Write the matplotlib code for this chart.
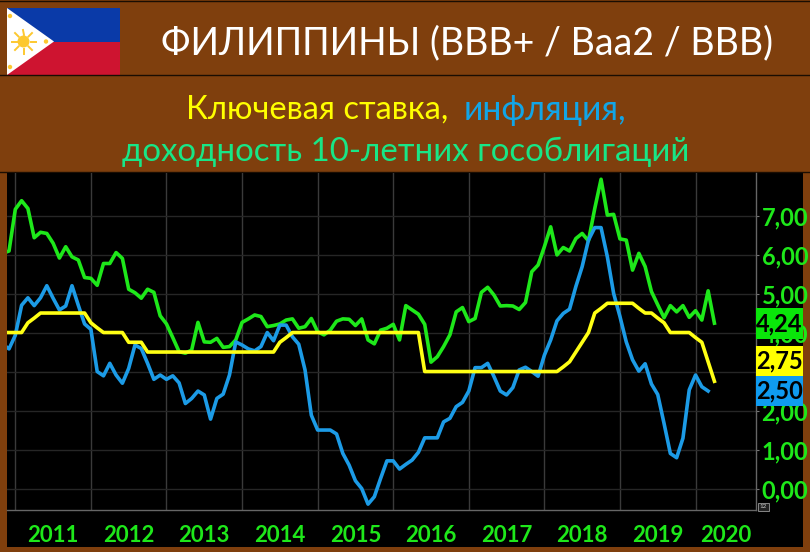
import matplotlib
matplotlib.use('Agg')
import matplotlib.pyplot as plt
from matplotlib.patches import Rectangle, Polygon, Circle
import numpy as np

plt.rcParams['font.family'] = ['Lato', 'Open Sans', 'DejaVu Sans']

# monthly values, first point is the month before the visible left edge
start_year = 2010 + 10 / 12

bond_yield = [6.03, 6.09, 7.16, 7.38, 7.18, 6.43, 6.57, 6.54, 6.29, 5.91, 6.20,
              5.94, 5.86, 5.41, 5.39, 5.21, 5.77, 5.77, 6.05, 5.90, 5.11,
              5.02, 4.88, 5.11, 5.03, 4.43, 4.22, 3.87, 3.51, 3.47, 3.55,
              4.26, 3.76, 3.75, 3.85, 3.62, 3.64, 3.81, 4.26, 4.35, 4.45,
              4.41, 4.15,
              4.18, 4.22, 4.32, 4.35, 4.11, 4.15, 4.36, 4.02, 3.94, 4.06,
              4.29, 4.35, 4.34, 4.18, 4.35, 3.81, 3.71, 4.06, 4.11, 4.21,
              3.81, 4.69, 4.58, 4.47, 4.21, 3.24, 3.38, 3.64, 3.94, 4.53,
              4.64, 4.28, 4.36, 5.03, 5.16, 4.96, 4.68, 4.69, 4.68, 4.59,
              4.77, 5.56, 5.73,
              6.20, 6.71, 5.99, 6.18, 6.09, 6.41, 6.54, 6.35, 7.18, 7.93,
              7.01, 7.03, 6.40, 6.37, 5.60, 6.03, 5.69, 5.05, 4.71, 4.38,
              4.69, 4.53, 4.69, 4.39, 4.56, 4.32, 5.07, 4.24]

key_rate = [4.00, 4.00, 4.00, 4.00, 4.25, 4.37, 4.50, 4.50, 4.50, 4.50, 4.50,
            4.50, 4.50, 4.50, 4.25, 4.12, 4.00, 4.00, 4.00, 4.00, 3.75,
            3.75, 3.75, 3.50, 3.50, 3.50, 3.50, 3.50, 3.50, 3.50, 3.50,
            3.50, 3.50, 3.50, 3.50, 3.50, 3.50, 3.50, 3.50, 3.50, 3.50,
            3.50, 3.50, 3.50, 3.75, 3.87, 4.00, 4.00, 4.00, 4.00, 4.00,
            4.00, 4.00, 4.00, 4.00, 4.00, 4.00, 4.00, 4.00, 4.00, 4.00,
            4.00, 4.00, 4.00, 4.00, 4.00, 4.00, 3.00, 3.00, 3.00, 3.00,
            3.00, 3.00, 3.00, 3.00, 3.00, 3.00, 3.00, 3.00, 3.00, 3.00,
            3.00, 3.00, 3.00, 3.00, 3.00, 3.00, 3.00, 3.00, 3.12, 3.25,
            3.50, 3.75, 4.00, 4.50, 4.62, 4.75, 4.75, 4.75, 4.75, 4.75,
            4.62, 4.50, 4.50, 4.37, 4.25, 4.00, 4.00, 4.00, 4.00, 3.87,
            3.75, 3.25, 2.75]

inflation = [3.70, 3.58, 3.93, 4.70, 4.89, 4.69, 4.89, 5.20, 4.88, 4.58, 4.68,
             5.20, 4.70, 4.22, 4.08, 3.00, 2.89, 3.21, 2.91, 2.70, 3.08,
             3.68, 3.59, 3.21, 2.80, 2.91, 2.80, 2.89, 2.71, 2.18, 2.31,
             2.50, 2.40, 1.78, 2.31, 2.42, 2.91, 3.76, 3.68, 3.58, 3.53,
             3.64, 4.00, 3.79, 4.19, 4.19, 3.89, 3.70, 3.04, 1.88, 1.50,
             1.50, 1.50, 1.40, 0.90, 0.60, 0.20, 0.00, -0.40, -0.21, 0.26,
             0.71, 0.71, 0.50, 0.62, 0.73, 0.93, 1.30, 1.30, 1.30, 1.71,
             1.80, 2.10, 2.21, 2.50, 3.10, 3.10, 3.21, 2.87, 2.50, 2.40,
             2.59, 3.04, 3.11, 3.00, 2.88, 3.42, 3.81, 4.30, 4.49, 4.60,
             5.18, 5.69, 6.37, 6.69, 6.69, 5.94, 5.00, 4.41, 3.76, 3.30,
             3.01, 3.20, 2.68, 2.41, 1.67, 0.90, 0.79, 1.29, 2.53, 2.91,
             2.61, 2.50]

years = [2011, 2012, 2013, 2014, 2015, 2016, 2017, 2018, 2019, 2020]
y_ticks = [0, 1, 2, 3, 4, 5, 6, 7]
# 3,00 sits fully behind the value tags, as in the source
y_hidden = [3]

BROWN = '#7f3f0d'
GREEN = '#1ee81a'
YELLOW = '#ffff14'
BLUE = '#1c9be6'
W, H = 810, 552


def months(vals):
    return start_year + np.arange(len(vals)) / 12


def fmt(v):
    return ('%.2f' % v).replace('.', ',')


fig = plt.figure(figsize=(W / 100, H / 100), dpi=100, facecolor=BROWN)

# header, black panel and flag live in pixel coordinates
bg = fig.add_axes([0, 0, 1, 1], zorder=0)
bg.set_xlim(0, W)
bg.set_ylim(H, 0)
bg.axis('off')
bg.add_patch(Rectangle((7, 172), 796, 375, color='black', lw=0))
for yy in [1, 75, 172]:
    bg.plot([0, W], [yy, yy], color='#1a0d02', lw=1)

bg.add_patch(Rectangle((7, 8), 113, 34, color='#0a3aa8', lw=0))
bg.add_patch(Rectangle((7, 42), 113, 33, color='#ce1430', lw=0))
bg.add_patch(Polygon([(7, 8), (54, 41.5), (7, 75)], color='white', lw=0))
bg.add_patch(Circle((23.5, 41.5), 6, color='#fdc82f', lw=0))
for a in np.arange(0, 360, 45):
    ca, sa = np.cos(np.radians(a)), np.sin(np.radians(a))
    bg.plot([23.5 + 7 * ca, 23.5 + 12 * ca], [41.5 + 7 * sa, 41.5 + 12 * sa],
            color='#fdc82f', lw=1.4)
for sx, sy in [(10, 16), (46, 41.5), (10, 67)]:
    bg.add_patch(Circle((sx, sy), 2.2, color='#fdc82f', lw=0))

bg.text(467, 43, 'ФИЛИППИНЫ (BBB+ / Baa2 / BBB)', color='white', fontsize=27,
        ha='center', va='center')
bg.text(186, 110, 'Ключевая ставка,', color='#ffff00', fontsize=23.5, ha='left', va='center')
bg.text(464, 110, 'инфляция,', color='#12a5e6', fontsize=24.3, ha='left', va='center')
bg.text(406, 152, 'доходность 10-летних гособлигаций', color='#18e686', fontsize=23.8,
        ha='center', va='center')

# chart
left, right, top, bottom = 7, 756, 173, 510
ax = fig.add_axes([left / W, 1 - bottom / H, (right - left) / W, (bottom - top) / H],
                  facecolor='black', zorder=2)
ax.set_xlim(2010.89, 2020.80)
ax.set_ylim(-0.55, 8.09)

ax.set_xticks(years)
ax.set_xticklabels([])
ax.set_yticks(y_ticks)
ax.set_yticklabels(['' if v in y_hidden else fmt(v) for v in y_ticks], color=GREEN,
                   fontsize=17, fontweight='bold')
ax.yaxis.tick_right()
ax.tick_params(axis='y', length=2, width=0.8, color='#777777', pad=2)
ax.tick_params(axis='x', length=0)
ax.grid(axis='y', color='#262626', lw=1)
ax.grid(axis='x', color='#3a3a3a', lw=1)
ax.set_axisbelow(True)
for s in ['top', 'left']:
    ax.spines[s].set_visible(False)
for s in ['right', 'bottom']:
    ax.spines[s].set_color('#666666')
    ax.spines[s].set_linewidth(1)

ax.plot(months(bond_yield), bond_yield, color=GREEN, lw=2.6, solid_joinstyle='round')
ax.plot(months(inflation), inflation, color=BLUE, lw=2.6, solid_joinstyle='round')
ax.plot(months(key_rate), key_rate, color=YELLOW, lw=2.6, solid_joinstyle='round')

tr = ax.get_xaxis_transform()
for yr in years:
    xpos = yr + 0.5 if yr < 2020 else 2020.4
    ax.text(xpos, -0.075, str(yr), transform=tr, color=GREEN, fontsize=16,
            fontweight='bold', ha='center', va='center', clip_on=False)

# value tags over the right axis
ov = fig.add_axes([0, 0, 1, 1], zorder=5)
ov.set_xlim(0, W)
ov.set_ylim(H, 0)
ov.axis('off')
ov.patch.set_alpha(0)
for y0, y1, col, val in [(308, 339, '#0ae60a', bond_yield[-1]),
                         (346, 376, '#ffff00', key_rate[-1]),
                         (376, 406, '#0f9bf0', inflation[-1])]:
    ov.add_patch(Rectangle((756, y0), 47, y1 - y0, color=col, lw=0))
    ov.text(779.5, (y0 + y1) / 2, fmt(val), color='black', fontsize=17, fontweight='bold',
            ha='center', va='center')
ov.text(763.5, 507, '12', color='#cccccc', fontsize=4.5, ha='center', va='center',
        bbox=dict(boxstyle='square,pad=0.25', fc='#222222', ec='#999999', lw=0.6))

plt.savefig('out.png', dpi=100, facecolor=BROWN)
